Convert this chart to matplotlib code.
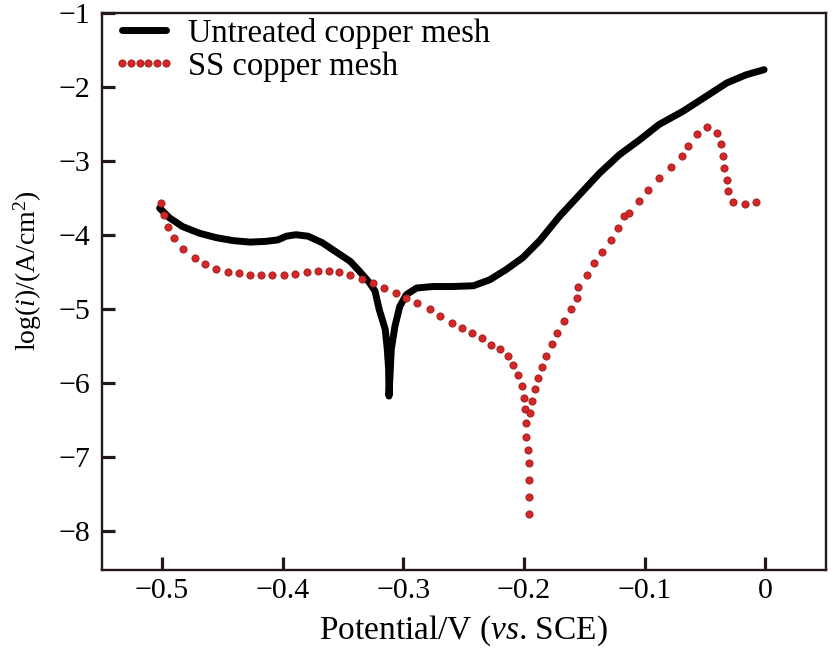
import matplotlib.pyplot as plt
import matplotlib as mpl

mpl.rcParams['font.family'] = 'Liberation Serif'
mpl.rcParams['mathtext.fontset'] = 'custom'
mpl.rcParams['mathtext.rm'] = 'Liberation Serif'
mpl.rcParams['mathtext.it'] = 'Liberation Serif:italic'

# untreated copper mesh (solid black)
untreated_v = [-0.502, -0.494, -0.483, -0.469, -0.455, -0.441, -0.427, -0.414,
               -0.404, -0.397, -0.389, -0.379, -0.367, -0.356, -0.344, -0.336,
               -0.328, -0.3235, -0.320, -0.315, -0.3133, -0.3122, -0.3119,
               -0.310, -0.307, -0.303, -0.2975, -0.289, -0.2755, -0.259,
               -0.242, -0.2285, -0.2147, -0.201, -0.187, -0.1705, -0.154,
               -0.1375, -0.121, -0.1043, -0.088, -0.068, -0.049, -0.032,
               -0.016, -0.001]
untreated_logi = [-3.64, -3.77, -3.89, -3.98, -4.04, -4.08, -4.10, -4.09,
                  -4.07, -4.02, -4.00, -4.02, -4.11, -4.23, -4.36, -4.50,
                  -4.65, -4.76, -5.01, -5.28, -5.55, -5.82, -6.18,
                  -5.55, -5.24, -4.97, -4.81, -4.72, -4.70, -4.70,
                  -4.69, -4.61, -4.47, -4.31, -4.08, -3.75, -3.46,
                  -3.17, -2.92, -2.72, -2.51, -2.33, -2.13, -1.95,
                  -1.84, -1.77]

# SS copper mesh (red dots)
ss_v = [-0.501, -0.498, -0.495, -0.490, -0.483, -0.473, -0.464, -0.455, -0.445,
        -0.436, -0.427, -0.418, -0.409, -0.399, -0.390, -0.380, -0.371, -0.362,
        -0.353, -0.344, -0.334, -0.325, -0.316, -0.306, -0.298, -0.289, -0.278,
        -0.270, -0.260, -0.251, -0.243, -0.235, -0.227, -0.220, -0.213, -0.209,
        -0.205, -0.202, -0.200, -0.199, -0.198, -0.198, -0.197, -0.196, -0.196,
        -0.196, -0.196, -0.195, -0.193, -0.191, -0.188, -0.185, -0.182, -0.177,
        -0.173, -0.167, -0.161, -0.156, -0.155, -0.148, -0.142, -0.135, -0.128,
        -0.122, -0.117, -0.113, -0.105, -0.097, -0.088, -0.078, -0.069, -0.064,
        -0.057, -0.048, -0.040, -0.037, -0.035, -0.034, -0.032, -0.031, -0.027,
        -0.017, -0.008]
ss_logi = [-3.57, -3.73, -3.89, -4.04, -4.19, -4.31, -4.40, -4.46, -4.50,
           -4.52, -4.54, -4.55, -4.55, -4.54, -4.53, -4.50, -4.49, -4.49,
           -4.51, -4.55, -4.60, -4.65, -4.72, -4.79, -4.86, -4.92, -5.01,
           -5.10, -5.19, -5.26, -5.33, -5.40, -5.49, -5.54, -5.64, -5.76,
           -5.89, -6.05, -6.21, -6.36, -6.54, -6.73, -6.91, -7.09, -7.31,
           -7.54, -7.78, -6.41, -6.25, -6.09, -5.94, -5.79, -5.64, -5.48,
           -5.33, -5.16, -5.01, -4.86, -4.70, -4.54, -4.38, -4.23, -4.07,
           -3.91, -3.75, -3.70, -3.55, -3.39, -3.23, -3.09, -2.94, -2.80,
           -2.64, -2.54, -2.63, -2.78, -2.94, -3.10, -3.26, -3.41, -3.56,
           -3.59, -3.56]

x_ticks = [-0.5, -0.4, -0.3, -0.2, -0.1, 0]
x_ticklabels = ['\u22120.5', '\u22120.4', '\u22120.3', '\u22120.2', '\u22120.1', '0']
y_ticks = [-8, -7, -6, -5, -4, -3, -2, -1]
y_ticklabels = ['\u2212%d' % abs(t) for t in y_ticks]

fig = plt.figure(figsize=(8.39, 6.5), dpi=100)
ax = fig.add_axes([0.1212, 0.1231, 0.8629, 0.8574])

ax.plot(untreated_v, untreated_logi, color='black', lw=5,
        solid_capstyle='round', solid_joinstyle='round',
        label='Untreated copper mesh')
ax.plot(ss_v, ss_logi, ls='none', marker='o', ms=5.2,
        mfc='#d42626', mec='#9a1c1c', mew=0.6, label='SS copper mesh')

ax.set_xlim(-0.55, 0.05)
ax.set_ylim(-8.53, -1.0)
ax.set_xticks(x_ticks)
ax.set_xticklabels(x_ticklabels)
ax.set_yticks(y_ticks)
ax.set_yticklabels(y_ticklabels)

for s in ax.spines.values():
    s.set_linewidth(1.7)
    s.set_color('#231815')
ax.tick_params(direction='in', length=9.5, width=2.3, color='#231815',
               labelsize=21.5, top=False, right=False)
ax.tick_params(axis='x', pad=6)
ax.tick_params(axis='y', pad=8)

ax.set_xlabel(r'Potential/V ($\mathit{vs}$. SCE)', fontsize=24, labelpad=6.5)
ax.set_ylabel(r'log($\mathit{i}$)/(A/cm$^2$)', fontsize=20)
ax.yaxis.set_label_coords(-0.08, 0.538)

ax.legend(loc='upper left', bbox_to_anchor=(0.015, 0.991), frameon=False,
          fontsize=23.5, numpoints=6, handlelength=1.93, handletextpad=0.37,
          labelspacing=0.08, borderpad=0, borderaxespad=0)

fig.savefig('out.png', dpi=100)
